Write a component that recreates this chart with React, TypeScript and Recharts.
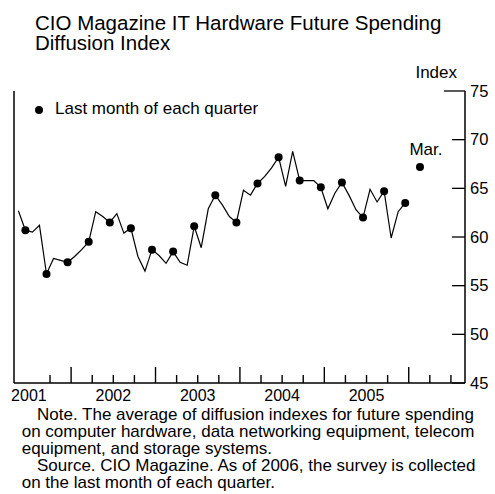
import React from 'react';
import { ComposedChart, Line, XAxis, YAxis, ReferenceLine } from 'recharts';

const FONT = '"Liberation Sans", Arial, Helvetica, sans-serif';

// monthly diffusion index (May 2001 - Dec 2005)
const values2001 = [62.7, 60.7, 60.5, 61.2, 56.2, 57.8, 57.6, 57.4];
const values2002 = [58.0, 58.7, 59.5, 62.6, 62.1, 61.5, 62.4, 60.4, 60.9, 58.0, 56.5, 58.7];
const values2003 = [58.1, 57.3, 58.5, 57.4, 57.1, 61.1, 58.9, 62.9, 64.3, 63.3, 62.1, 61.5];
const values2004 = [64.8, 64.3, 65.5, 66.2, 67.1, 68.2, 65.2, 68.8, 65.8, 65.8, 65.8, 65.1];
const values2005 = [62.9, 64.5, 65.6, 64.3, 62.8, 62.0, 64.9, 63.6, 64.7, 59.9, 62.6, 63.5];

const firstMonth = 4; // months counted from Jan 2001, so 4 = May 2001
const monthlyValues = [...values2001, ...values2002, ...values2003, ...values2004, ...values2005];

// the lone 2006 reading
const latestMonth = 61.6;
const latestValue = 67.2;
const latestLabel = 'Mar.';

const yearLabels = ['2001', '2002', '2003', '2004', '2005'];
const yearMids = [6, 18, 30, 42, 54];
const yearStarts = [12, 24, 36, 48, 60];
const quarterTicks = [9, 12, 15, 18, 21, 24, 27, 30, 33, 36, 39, 42, 45, 48, 51, 54, 57, 60, 63, 66];
const indexTicks = [45, 50, 55, 60, 65, 70, 75];

const noteLines = [
  { text: 'Note. The average of diffusion indexes for future spending', indent: true },
  { text: 'on computer hardware, data networking equipment, telecom', indent: false },
  { text: 'equipment, and storage systems.', indent: false },
  { text: 'Source. CIO Magazine. As of 2006, the survey is collected', indent: true },
  { text: 'on the last month of each quarter.', indent: false },
];

const data: any[] = monthlyValues.map((v, i) => ({
  t: firstMonth + i + 0.5,
  value: v,
  quarterEnd: (firstMonth + i) % 3 === 2,
}));
data.push({ t: latestMonth, latest: latestValue, label: latestLabel });

const YearTick = (props: any) => {
  const { x, y, payload } = props;
  const labelIdx = yearMids.indexOf(payload.value);
  return (
    <g>
      <text x={x} y={y + 18} fill="#000" fontSize={16} fontFamily={FONT} textAnchor="middle">
        {labelIdx >= 0 ? yearLabels[labelIdx] : ''}
      </text>
    </g>
  );
};

// quarter / year tick marks standing up from the bottom axis
const tickMarkShape = (len: number) => (props: any) => {
  const { x1, y1, y2 } = props;
  const bottom = Math.max(y1, y2);
  return <line x1={x1} x2={x1} y1={bottom} y2={bottom - len} stroke="#000" strokeWidth={1.4} />;
};

const RightTick = ({ x, y, payload }: any) => {
  const len = payload.value === 75 ? 21 : 13;
  return (
    <g>
      <line x1={x - len} x2={x} y1={y} y2={y} stroke="#000" strokeWidth={1.3} />
      <text x={x + 5} y={y + 5.8} textAnchor="start" fontFamily={FONT} fontSize={16.5} fill="#000">
        {payload.value}
      </text>
    </g>
  );
};

const LeftTick = ({ x, y, payload }: any) => {
  const len = payload.value === 75 ? 21 : 13;
  return (
    <g>
      <line x1={x} x2={x + len} y1={y} y2={y} stroke="#000" strokeWidth={1.3} />
    </g>
  );
};

const QuarterDot = (props: any) => {
  const { cx, cy, payload, index } = props;
  if (!payload || !payload.quarterEnd || cy == null) return <g key={`d-${index}`} />;
  return <circle key={`d-${index}`} cx={cx} cy={cy} r={4} fill="#000" />;
};

const LatestDot = (props: any) => {
  const { cx, cy, payload, index } = props;
  if (!payload || payload.latest == null || cy == null) return <g key={`l-${index}`} />;
  return (
    <g key={`l-${index}`}>
      <circle cx={cx} cy={cy} r={4} fill="#000" />
      <text x={cx + 6} y={cy - 12} textAnchor="middle" fontFamily={FONT} fontSize={17} fill="#000">
        {payload.label}
      </text>
    </g>
  );
};

const abs = (extra: React.CSSProperties): React.CSSProperties => ({
  position: 'absolute',
  whiteSpace: 'nowrap',
  fontFamily: FONT,
  color: '#000',
  margin: 0,
  ...extra,
});

export default function App() {
  return (
    <div style={{ position: 'absolute', left: 0, top: 0, width: 495, height: 494 }}>
      <ComposedChart
        width={495}
        height={494}
        data={data}
        margin={{ top: 91, right: 29, bottom: 110, left: 13 }}
      >
        <XAxis
          xAxisId="q"
          dataKey="t"
          type="number"
          domain={[3.88, 68]}
          ticks={yearMids}
          interval={0}
          height={1}
          tickSize={0}
          tickMargin={0}
          tickLine={false}
          axisLine={{ stroke: '#000', strokeWidth: 1.5 }}
          tick={<YearTick />}
        />
        <YAxis
          yAxisId="r"
          orientation="right"
          domain={[45, 75]}
          ticks={indexTicks}
          interval={0}
          width={1}
          tickSize={0}
          tickMargin={0}
          tickLine={false}
          axisLine={{ stroke: '#000', strokeWidth: 1.5 }}
          tick={<RightTick />}
        />
        <YAxis
          yAxisId="l"
          orientation="left"
          domain={[45, 75]}
          ticks={indexTicks}
          interval={0}
          width={1}
          tickSize={0}
          tickMargin={0}
          tickLine={false}
          axisLine={{ stroke: '#000', strokeWidth: 1.5 }}
          tick={<LeftTick />}
        />
        {quarterTicks.map((q) => (
          <ReferenceLine
            key={`qt-${q}`}
            xAxisId="q"
            yAxisId="r"
            x={q}
            stroke="#000"
            shape={tickMarkShape(yearStarts.includes(q) ? 16 : 8)}
          />
        ))}
        <Line
          xAxisId="q"
          yAxisId="r"
          type="linear"
          dataKey="value"
          stroke="#000"
          strokeWidth={1.2}
          dot={QuarterDot}
          activeDot={false}
          isAnimationActive={false}
        />
        <Line
          xAxisId="q"
          yAxisId="r"
          type="linear"
          dataKey="latest"
          stroke="none"
          dot={LatestDot}
          activeDot={false}
          isAnimationActive={false}
        />
      </ComposedChart>

      <div style={abs({ left: 35, top: 12.9, fontSize: 20.5, lineHeight: '20px' })}>
        <div>CIO Magazine IT Hardware Future Spending</div>
        <div>Diffusion Index</div>
      </div>

      <div style={abs({ right: 38, top: 63.6, fontSize: 17, lineHeight: '17px', textAlign: 'right' })}>Index</div>

      <div style={abs({ left: 35.3, top: 106, width: 8, height: 8, borderRadius: '50%', background: '#000' })} />
      <div style={abs({ left: 55, top: 99.6, fontSize: 17, lineHeight: '17px' })}>Last month of each quarter</div>

      <div style={abs({ left: 0, top: 407.4, fontSize: 17, lineHeight: '16.8px' })}>
        {noteLines.map((l) => (
          <div key={l.text} style={{ paddingLeft: l.indent ? 37 : 21.7 }}>{l.text}</div>
        ))}
      </div>
    </div>
  );
}
